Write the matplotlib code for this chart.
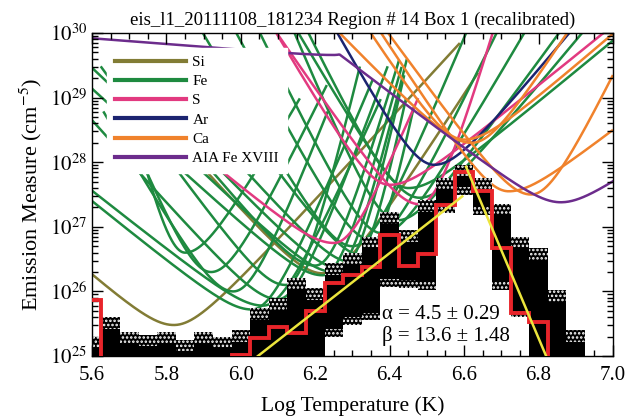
import numpy as np
import matplotlib
matplotlib.use("Agg")
import matplotlib.pyplot as plt
from matplotlib.ticker import FixedLocator, LogLocator, NullFormatter, FuncFormatter

plt.rcParams['font.family'] = ['Liberation Serif', 'DejaVu Serif']
plt.rcParams['mathtext.fontset'] = 'stix'
plt.rcParams['hatch.linewidth'] = 1.2

# ---- DEM histogram (log T bin centres, log EM) ----
logT_bins = [5.60, 5.65, 5.70, 5.75, 5.80, 5.85, 5.90, 5.95, 6.00, 6.05, 6.10, 6.15, 6.20, 6.25,
             6.30, 6.35, 6.40, 6.45, 6.50, 6.55, 6.60, 6.65, 6.70, 6.75, 6.80, 6.85, 6.90]
dem_best = [25.87, 24.5, 24.5, 24.5, 24.5, 24.5, 24.5, 24.5, 25.01, 25.28, 25.45, 25.36, 25.70, 26.13,
            26.26, 26.38, 26.88, 26.40, 26.58, 27.34, 27.85, 27.56, 26.67, 25.67, 25.53, 24.5, 24.5]
mc_upper = [25.30, 25.60, 25.37, 25.33, 25.37, 25.25, 25.37, 25.30, 25.40, 25.74, 25.90, 26.20, 26.05, 26.44,
            26.60, 26.85, 27.23, 26.95, 27.41, 27.76, 27.96, 27.76, 27.36, 26.85, 26.67, 26.02, 25.40]
mc_lower = [24.5, 24.5, 24.5, 24.5, 24.5, 24.5, 24.5, 24.5, 24.5, 24.5, 24.5, 24.5, 24.5, 25.30,
            25.48, 25.55, 26.07, 26.05, 26.02, 27.22, 27.50, 27.18, 26.02, 25.60, 24.5, 24.5, 24.5]

# power-law fits
alpha, alpha_err = 4.5, 0.29
beta, beta_err = 13.6, 1.48
warm_fit_T = [6.046, 6.595]
warm_fit_EM0 = 25.0          # log EM at the first warm_fit_T
hot_fit_T = [6.605, 6.82]
hot_fit_EM0 = 27.93          # log EM at the first hot_fit_T

# ---- EM loci: (peak log T, min log EM, cool-side slope, hot-side slope, cut-off log EM) ----
si_loci = [(5.82, 25.48, 5.1, 6.3, 29.85),
           (6.22, 26.28, 6.5, 9.0, 29.4)]
fe_loci = [(6.03, 25.72, 4.7, 14, 29.3),
           (6.06, 25.78, 4.6, 13, 29.0),
           (6.10, 25.88, 6.5, 16, 29.5),
           (5.92, 26.30, 14, 12, 29.2),
           (5.98, 26.00, 10, 15, 28.8),
           (6.12, 26.10, 8, 25, 29.5),
           (6.22, 26.25, 5.3, 22, 29.5),
           (6.25, 26.30, 5.5, 25, 29.6),
           (6.27, 26.35, 6, 28, 29.4),
           (6.30, 26.45, 6.5, 30, 29.0),
           (6.20, 26.40, 7, 20, 29.6),
           (6.33, 26.55, 8, 30, 28.9),
           (6.38, 26.90, 12, 10, 30.5),
           (6.35, 26.80, 11, 12, 30.5),
           (6.42, 27.10, 14, 8, 30.5),
           (6.30, 26.70, 10, 14, 30.5),
           (6.45, 27.60, 12, 4.8, 30.5),
           (6.48, 27.45, 10, 7, 30.5),
           (5.85, 26.60, 25, 10, 29.0)]
s_loci = [(6.25, 26.75, 4.8, 14, 29.0),
          (6.40, 27.65, 10, 4.7, 30.5),
          (6.48, 27.35, 8.5, 20, 30.5)]
ar_loci = [(6.52, 27.96, 10.6, 7.0, 30.5)]
ca_loci = [(6.62, 28.30, 6, 9, 30.5),
           (6.72, 27.55, 9, 4.5, 30.5),
           (6.78, 27.50, 8, 12, 30.5),
           (6.60, 28.35, 9, 5, 30.5)]
aia_hot = (6.86, 27.38, 4.4, 4.0)
aia_cool = (6.25, 29.66, 0.45, 6.0)

legend_names = ['Si', 'Fe', 'S', 'Ar', 'Ca', 'AIA Fe XVIII']
colors = {'Si': '#827c35', 'Fe': '#1e8a40', 'S': '#e23a80', 'Ar': '#1c2470',
          'Ca': '#f0822c', 'AIA Fe XVIII': '#6c2c8c'}

title = 'eis_l1_20111108_181234 Region # 14 Box 1 (recalibrated)'


def locus(t, t0, m, a_lo, a_hi, s=0.08):
    d = t - t0
    a = np.where(d < 0, a_lo, a_hi)
    return m + a * (np.sqrt(d * d + s * s) - s)


fig = plt.figure(figsize=(6.28, 4.18), dpi=100)
ax = fig.add_axes([0.1465, 0.1483, 0.8295, 0.7727])
ax.set_yscale('log')

T = np.linspace(5.6, 7.0, 600)
lw = 1.8
groups = [('Si', si_loci), ('Fe', fe_loci), ('S', s_loci), ('Ar', ar_loci), ('Ca', ca_loci)]
for name, loci in groups:
    for t0, m, alo, ahi, cap in loci:
        y = locus(T, t0, m, alo, ahi)
        y = np.where(y <= cap, y, np.nan)
        ax.plot(T, 10 ** y, color=colors[name], lw=lw, zorder=1, solid_capstyle='butt')
aia = np.minimum(locus(T, *aia_hot), locus(T, *aia_cool))
ax.plot(T, 10 ** aia, color=colors['AIA Fe XVIII'], lw=lw, zorder=1)

# Monte-Carlo envelope
tb = np.array(logT_bins)
up = 10 ** np.array(mc_upper)
lo = 10 ** np.array(mc_lower)
ax.bar(tb, up - lo, bottom=lo, width=0.05, color='black', edgecolor='white',
       hatch='....', linewidth=0, zorder=2)
core_hi = np.array(mc_upper) - 0.18
core_lo = np.array(mc_lower) + 0.12
ok = core_hi > core_lo
ax.bar(tb[ok], 10 ** core_hi[ok] - 10 ** core_lo[ok], bottom=10 ** core_lo[ok], width=0.05,
       color='black', linewidth=0, zorder=2)

# best-fit DEM
edges = np.concatenate([tb - 0.025, [tb[-1] + 0.025]])
ax.stairs(10 ** np.array(dem_best), edges, baseline=None, color='#e8242a', lw=2.8, zorder=4)

# power-law fits
wT = np.array(warm_fit_T)
ax.plot(wT, 10 ** (warm_fit_EM0 + alpha * (wT - wT[0])), color='#ece53c', lw=1.8, zorder=5)
hT = np.array(hot_fit_T)
ax.plot(hT, 10 ** (hot_fit_EM0 - beta * (hT - hT[0])), color='#ece53c', lw=1.8, zorder=5)

ax.text(6.38, 10 ** 25.58, 'α = %.1f ± %.2f' % (alpha, alpha_err), fontsize=15, zorder=6)
ax.text(6.38, 10 ** 25.24, 'β = %.1f ± %.2f' % (beta, beta_err), fontsize=15, zorder=6)

ax.set_xlim(5.6, 7.0)
ax.set_ylim(1e25, 1e30)
ax.xaxis.set_major_locator(FixedLocator([5.6, 5.8, 6.0, 6.2, 6.4, 6.6, 6.8, 7.0]))
ax.xaxis.set_minor_locator(FixedLocator(np.arange(5.6, 7.001, 0.05)))
ax.xaxis.set_major_formatter(FuncFormatter(lambda v, p: '%.1f' % v))
ax.yaxis.set_major_locator(FixedLocator([1e25, 1e26, 1e27, 1e28, 1e29, 1e30]))
ax.yaxis.set_minor_locator(LogLocator(base=10, subs=np.arange(2, 10)))
ax.yaxis.set_minor_formatter(NullFormatter())
ax.yaxis.set_major_formatter(FuncFormatter(lambda v, p: r'$10^{%d}$' % round(np.log10(v))))
ax.tick_params(which='both', direction='in', top=True, right=True, labelsize=15)
ax.tick_params(which='major', length=8, width=1)
ax.tick_params(which='minor', length=4, width=1)
ax.tick_params(axis='x', pad=7)
for sp in ax.spines.values():
    sp.set_linewidth(1.0)

ax.set_xlabel('Log Temperature (K)', fontsize=15.5, labelpad=8)
ax.set_ylabel(r'Emission Measure (cm$^{-5}$)', fontsize=16, labelpad=4)
ax.set_title(title, fontsize=13.5, pad=6)

handles = [plt.Line2D([], [], color=colors[n], lw=3) for n in legend_names]
leg = ax.legend(handles, legend_names, loc='upper left', bbox_to_anchor=(0.014, 0.978),
                fontsize=11, handlelength=4.7, handletextpad=0.4, labelspacing=0.36,
                borderpad=0.5, frameon=True, fancybox=False, framealpha=1.0,
                facecolor='white', edgecolor='white')
leg.set_zorder(10)

fig.savefig('out.png', dpi=100)
